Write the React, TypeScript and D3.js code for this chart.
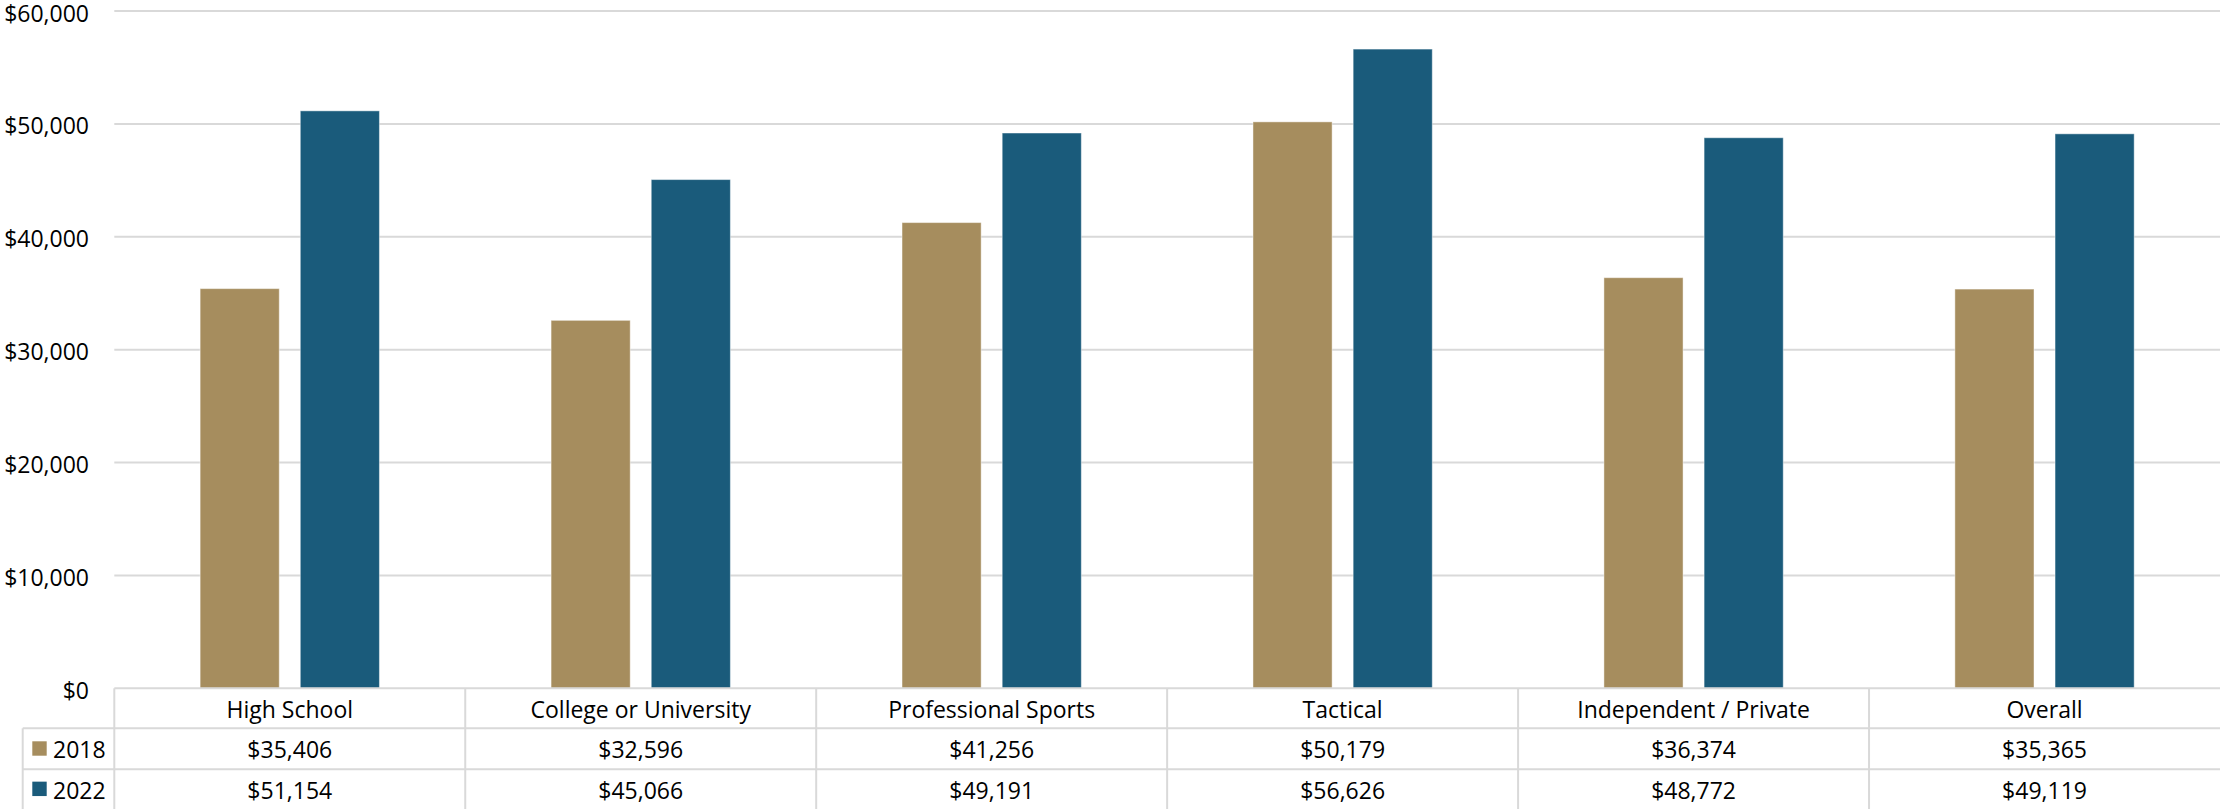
import React from "react";
import * as d3 from "d3";

const categories = ["High School", "College or University", "Professional Sports", "Tactical", "Independent / Private", "Overall"];
const seriesNames = ["2018", "2022"];
const values2018 = [35406, 32596, 41256, 50179, 36374, 35365];
const values2022 = [51154, 45066, 49191, 56626, 48772, 49119];
const yTicks = [0, 10000, 20000, 30000, 40000, 50000, 60000];
const colors = ["#A68D5E", "#1A5B7B"];

const W = 2220;
const H = 809;
const FONT = "'Open Sans', 'Noto Sans', sans-serif";
const FS = 23;
const GRID = "#D9D9D9";

export default function App() {
  const plotLeft = 114.3;
  const plotRight = W;
  const tableTop = 688.3;
  const headerBottom = 728.3;
  const row1Bottom = 769.3;
  const tableBottom = 809;
  const legendLeft = 22.7;

  const y = d3.scaleLinear().domain([0, 60000]).range([tableTop, 11]);
  const x0 = d3.scaleBand<string>().domain(categories).range([plotLeft, plotRight]).padding(0);
  const groupW = 179.3;
  const x1 = d3.scaleBand<string>().domain(seriesNames).range([0, groupW]).paddingInner(0.21).paddingOuter(0);
  const series = [values2018, values2022];
  const fmt = d3.format("$,.0f");

  const rowCenters = [(headerBottom + row1Bottom) / 2, (row1Bottom + tableBottom) / 2];

  return (
    <svg width={W} height={H} style={{ position: "absolute", left: 0, top: 0, background: "#fff" }} fontFamily={FONT}>
      <rect x={0} y={0} width={W} height={H} fill="#fff" />
      {/* gridlines */}
      {yTicks.filter((t) => t > 0).map((t) => (
        <line key={t} x1={plotLeft} x2={plotRight} y1={y(t)} y2={y(t)} stroke={GRID} strokeWidth={2} />
      ))}
      {/* y labels */}
      {yTicks.map((t) => (
        <text key={t} x={89} y={y(t) + 1.5} textAnchor="end" dominantBaseline="central" fontSize={FS} fill="#000">
          {fmt(t)}
        </text>
      ))}
      {/* bars */}
      {categories.map((c, i) => {
        const cx = (x0(c) as number) + x0.bandwidth() / 2 - groupW / 2;
        return seriesNames.map((s, j) => {
          const v = series[j][i];
          return (
            <rect
              key={c + s}
              x={cx + (x1(s) as number)}
              y={y(v)}
              width={x1.bandwidth()}
              height={tableTop - y(v)}
              fill={colors[j]}
              stroke="#fff"
              strokeOpacity={0.45}
              strokeWidth={1}
            />
          );
        });
      })}
      {/* table lines */}
      <line x1={plotLeft} x2={W} y1={tableTop} y2={tableTop} stroke={GRID} strokeWidth={2} />
      <line x1={legendLeft} x2={W} y1={headerBottom} y2={headerBottom} stroke={GRID} strokeWidth={2} />
      <line x1={legendLeft} x2={W} y1={row1Bottom} y2={row1Bottom} stroke={GRID} strokeWidth={2} />
      <line x1={legendLeft} x2={legendLeft} y1={headerBottom} y2={tableBottom} stroke={GRID} strokeWidth={2} />
      {categories.map((c) => (
        <line key={"v" + c} x1={x0(c) as number} x2={x0(c) as number} y1={tableTop} y2={tableBottom} stroke={GRID} strokeWidth={2} />
      ))}
      {/* header labels */}
      {categories.map((c) => (
        <text key={"h" + c} x={(x0(c) as number) + x0.bandwidth() / 2} y={708.5} textAnchor="middle" dominantBaseline="central" fontSize={FS} fill="#000">
          {c}
        </text>
      ))}
      {/* legend keys and values */}
      {seriesNames.map((s, j) => (
        <g key={"row" + s}>
          <rect x={32.3} y={rowCenters[j] - 7.5} width={14.4} height={14.4} fill={colors[j]} />
          <text x={53} y={rowCenters[j] + 0.5} dominantBaseline="central" fontSize={FS} fill="#000">
            {s}
          </text>
          {categories.map((c, i) => (
            <text
              key={s + c}
              x={(x0(c) as number) + x0.bandwidth() / 2}
              y={rowCenters[j] + 0.5}
              textAnchor="middle"
              dominantBaseline="central"
              fontSize={FS}
              fill="#000"
            >
              {fmt(series[j][i])}
            </text>
          ))}
        </g>
      ))}
    </svg>
  );
}
